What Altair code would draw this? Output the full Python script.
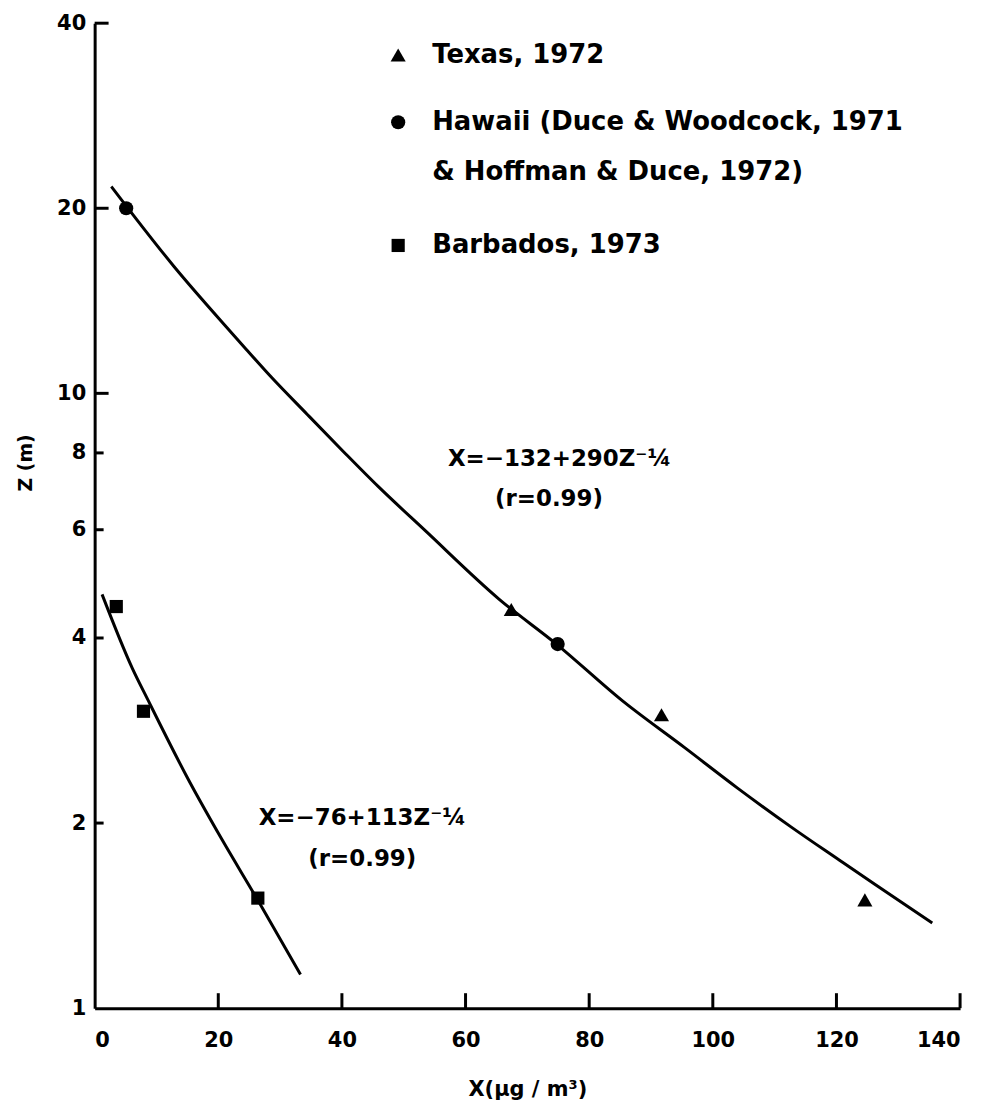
import altair as alt
import pandas as pd

site_names = ["Texas, 1972", "Hawaii", "Barbados, 1973"]
texas_x = [67.4, 91.7, 124.6]
texas_z = [4.45, 3.0, 1.50]
hawaii_x = [5.1, 74.9]
hawaii_z = [20.0, 3.91]
barbados_x = [3.5, 7.9, 26.4]
barbados_z = [4.5, 3.04, 1.51]

# ---- fitted curves ----
upper_x = [2.7, 12.8, 22.6, 24.5, 28.3, 34.4, 40.3, 45.9, 53.4, 65.5, 74.7, 85.4, 95.5, 104.0, 112.7, 120.5, 126.2, 135.5]
upper_z = [21.7, 16.1, 12.4, 11.8, 10.7, 9.24, 8.03, 7.05, 5.99, 4.62, 3.91, 3.16, 2.65, 2.28, 1.97, 1.74, 1.59, 1.376]
lower_x = [1.2, 6.1, 8.7, 15.2, 20.6, 26.2, 33.3]
lower_z = [4.71, 3.57, 3.16, 2.35, 1.88, 1.51, 1.134]

# ---- annotations (fit equations) ----
ann_text = ["X=\u2212132+290Z\u207b\u00bc", "(r=0.99)", "X=\u221276+113Z\u207b\u00bc", "(r=0.99)"]
ann_x = [75.2, 73.5, 43.3, 43.3]
ann_z = [7.82, 6.72, 2.04, 1.75]

# ---- legend (key inside the plot) ----
legend_lines = ["Texas, 1972", "Hawaii (Duce & Woodcock, 1971", "& Hoffman & Duce, 1972)", "Barbados, 1973"]
legend_text_z = [35.5, 27.6, 22.9, 17.4]
legend_sym_site = ["Texas, 1972", "Hawaii", "Barbados, 1973"]
legend_sym_z = [35.5, 27.6, 17.4]
legend_sym_x = 49.1
legend_text_x = 54.6

# ---- axis ticks ----
x_ticks = [0, 20, 40, 60, 80, 100, 120, 140]
y_ticks = [1, 2, 4, 6, 8, 10, 20, 40]
y_major_marks = [10, 20, 40]
y_minor_marks = [2, 4, 6, 8]
x_tick_marks = [20, 40, 60, 80, 100, 120, 140]

W, H = 869, 989
FONT = "DejaVu Sans"

pts = pd.DataFrame({
    "x": texas_x + hawaii_x + barbados_x,
    "z": texas_z + hawaii_z + barbados_z,
    "site": [site_names[0]] * len(texas_x) + [site_names[1]] * len(hawaii_x) + [site_names[2]] * len(barbados_x),
})
curves = pd.DataFrame({
    "x": upper_x + lower_x,
    "z": upper_z + lower_z,
    "curve": ["upper"] * len(upper_x) + ["lower"] * len(lower_x),
    "order": list(range(len(upper_x))) + list(range(len(lower_x))),
})
ann = pd.DataFrame({"x": ann_x, "z": ann_z, "t": ann_text})
leg_sym = pd.DataFrame({"x": [legend_sym_x] * 3, "z": legend_sym_z, "site": legend_sym_site})
leg_txt = pd.DataFrame({"x": [legend_text_x] * 4, "z": legend_text_z, "t": legend_lines})

xscale = alt.Scale(domain=[0, 140], nice=False)
yscale = alt.Scale(type="log", domain=[1, 40], nice=False)
shape_scale = alt.Scale(domain=site_names, range=["triangle-up", "circle", "square"])
size_scale = alt.Scale(domain=site_names, range=[230, 175, 140])

xaxis = alt.Axis(values=x_ticks, ticks=False, grid=False, domainWidth=3, domainColor="black",
                 labelFont=FONT, labelFontWeight="bold", labelFontSize=21, labelColor="black",
                 labelPadding=22, title="X(\u03bcg / m\u00b3)", titleFont=FONT, titleFontSize=21,
                 titleFontWeight="bold", titleColor="black", titlePadding=28)
yaxis = alt.Axis(values=y_ticks, ticks=False, grid=False, domainWidth=3, domainColor="black",
                 labelFont=FONT, labelFontWeight="bold", labelFontSize=21, labelColor="black",
                 labelPadding=9, title="Z (m)", titleFont=FONT, titleFontSize=19,
                 titleFontWeight="bold", titleColor="black", titleX=-69, titleY=441,
                 titleBaseline="middle", titleAlign="center")

lines = alt.Chart(curves).mark_line(color="black", strokeWidth=3, interpolate="monotone").encode(
    x=alt.X("x:Q", scale=xscale, axis=xaxis),
    y=alt.Y("z:Q", scale=yscale, axis=yaxis),
    detail="curve:N", order="order:Q")

points = alt.Chart(pts).mark_point(filled=True, color="black", opacity=1).encode(
    x=alt.X("x:Q", scale=xscale),
    y=alt.Y("z:Q", scale=yscale),
    shape=alt.Shape("site:N", scale=shape_scale, legend=None),
    size=alt.Size("site:N", scale=size_scale, legend=None),
)

key_syms = alt.Chart(leg_sym).mark_point(filled=True, color="black", opacity=1).encode(
    x=alt.X("x:Q", scale=xscale),
    y=alt.Y("z:Q", scale=yscale),
    shape=alt.Shape("site:N", scale=shape_scale, legend=None),
    size=alt.Size("site:N", scale=size_scale, legend=None),
)
key_txt = alt.Chart(leg_txt).mark_text(font=FONT, fontSize=26, fontWeight="bold", color="black",
                                       align="left", baseline="middle").encode(
    x=alt.X("x:Q", scale=xscale), y=alt.Y("z:Q", scale=yscale), text="t:N")

texts = alt.Chart(ann).mark_text(font=FONT, fontSize=23, fontWeight="bold", color="black",
                                 align="center", baseline="middle").encode(
    x=alt.X("x:Q", scale=xscale), y=alt.Y("z:Q", scale=yscale), text="t:N")

xt = alt.Chart(pd.DataFrame({"x": x_tick_marks})).mark_rule(color="black", strokeWidth=3).encode(
    x=alt.X("x:Q", scale=xscale), y=alt.value(H), y2=alt.value(H - 15))
ytM = alt.Chart(pd.DataFrame({"z": y_major_marks})).mark_rule(color="black", strokeWidth=3).encode(
    y=alt.Y("z:Q", scale=yscale), x=alt.value(0), x2=alt.value(14))
ytm = alt.Chart(pd.DataFrame({"z": y_minor_marks})).mark_rule(color="black", strokeWidth=3).encode(
    y=alt.Y("z:Q", scale=yscale), x=alt.value(0), x2=alt.value(9))

chart = alt.layer(lines, points, key_syms, key_txt, texts, xt, ytM, ytm).properties(
    width=W, height=H,
    autosize=alt.AutoSizeParams(type="none"),
    padding={"left": 87, "top": 13, "right": 20, "bottom": 95},
).configure(background="white", view=alt.ViewConfig(stroke=None))

chart.save("out.html", embed_options={"renderer": "svg", "actions": False})
